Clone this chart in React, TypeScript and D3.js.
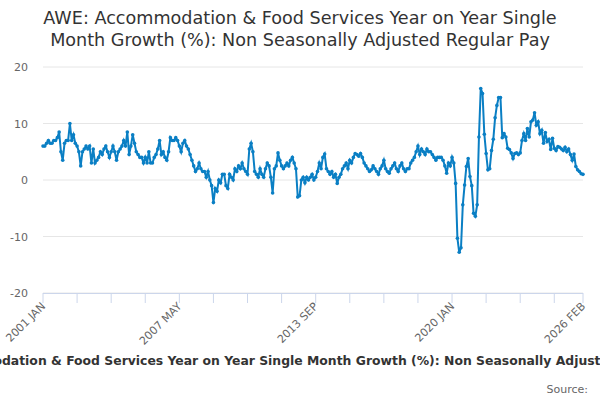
import * as d3 from 'd3';

const startYear = 2001;
const values: number[] = [
  6, 6, 6.5, 7, 6.5, 6.5, 7, 7, 7.5, 8.5, 5, 3.5,
  6.5, 7, 7, 10, 7, 8, 6.5, 6, 5, 2.5, 5, 5.5,
  6, 5.5, 6, 3, 5.5, 3, 3.5, 4, 5, 4.5, 5.5, 6,
  5, 4, 5, 6, 5, 3.5, 5, 5.5, 6, 7, 6, 8.5,
  4.5, 6, 8, 6.5, 5, 4.5, 4, 4, 3, 4, 3, 5,
  3, 3, 4, 4.5, 5.5, 7, 4.5, 5, 4, 3.5, 5, 7.5,
  7, 7, 7.5, 7, 6, 5, 6.5, 7, 6, 5.5, 4.5, 3.5,
  2.5, 1.5, 2, 3, 2, 1.5, 1.5, 0.5, 1.5, 0, -1, -4,
  -1.5, -2, 0, -0.5, 1, 1, -1, -1.5, 1, 0.5, 0, 2,
  1.5, 2.5, 2, 3, 2, 1.5, 1, 5.5, 6.5, 5, 1.5, 1,
  0.5, 2, 1, 0.5, 2, 3, 2.5, 0.5, -2.3, 2, 2.5, 4.8,
  3.5, 2.5, 2, 2.5, 3, 2.5, 3.5, 4, 3, 2, -3, -2.8,
  0, 0.5, -0.5, 0.5, 0, 0.5, 1, 0, 0.5, 1.5, 3, 2,
  4, 4.6, 2, 1.5, 1, 1.5, 0.5, 1, -0.6, 0.5, 1, 2,
  2.5, 3, 2, 3.5, 3, 4, 4.7, 4.5, 4.2, 4.7, 4, 3,
  2.5, 2, 1.5, 1.8, 2.5, 2, 1.5, 1, 2, 2.5, 3.5, 2,
  1.5, 1.2, 2, 2.5, 3, 2, 1.5, 2.5, 3, 2, 1.5, 2,
  2, 3, 3.5, 4, 5, 6, 4.5, 5.5, 5, 4.5, 5.5, 5,
  5, 4.5, 4, 3.5, 4, 4, 4, 3.5, 2.5, 1.2, 3, 2.5,
  4, 3, -0.6, -10.3, -12.8, -12, -4.4, -0.9, 2.4, 3.8, 0.6, -1,
  -5.9, -6.4, -4.4, 7.6, 16.2, 15.3, 8.1, 4.7, 1.8, 2, 5.2, 7.2,
  11, 13.2, 14.6, 14.6, 7.5, 8.2, 7.6, 5.6, 5.4, 4.8, 3.8, 4.7,
  4.8, 4.5, 4.8, 7, 8.2, 7, 9.1, 7.6, 10.3, 10.6, 11.9, 9.7,
  10.3, 8.2, 8.8, 6.5, 8.4, 6.8, 7.2, 5.4, 7.4, 5.6, 5.2, 5.9,
  5.8, 5.5, 5.2, 5.8, 5, 5.5, 4.5, 3.5, 4.6, 2.4, 1.8, 1.5,
  1.1, 1.0,
];
const yTicks = [-20, -10, 0, 10, 20];
const monthNames = ['JAN', 'FEB', 'MAR', 'APR', 'MAY', 'JUN', 'JUL', 'AUG', 'SEP', 'OCT', 'NOV', 'DEC'];
const titleLines = ['AWE: Accommodation & Food Services Year on Year Single', 'Month Growth (%): Non Seasonally Adjusted Regular Pay'];
const subtitle = 'AWE: Accommodation & Food Services Year on Year Single Month Growth (%): Non Seasonally Adjusted Regular Pay';

const font = '"DejaVu Sans", Verdana, sans-serif';

const label = (i: number) => `${startYear + Math.floor(i / 12)} ${monthNames[i % 12]}`;

const App = () => {
  const width = 600;
  const height = 400;
  const last = values.length - 1;
  const x = d3.scaleLinear().domain([0, last]).range([43, 583]);
  const y = d3.scaleLinear().domain([-20, 20]).range([293, 67]);
  const line = d3.line<number>().x((_, i) => x(i)).y(d => y(d));

  const ticks: number[] = [];
  for (let i = 0; i < last; i += 19) ticks.push(i);
  ticks.push(last);
  const labelled = [0, 76, 152, 228, last];

  return (
    <svg width={width} height={height} style={{ position: 'absolute', left: 0, top: 0, fontFamily: font }}>
      <rect width={width} height={height} fill="#fff" />
      {titleLines.map((t, i) => (
        <text key={i} x={300} y={24 + i * 22} textAnchor="middle" fontSize={17.6} fill="#333">{t}</text>
      ))}
      {yTicks.map(t => (
        <g key={t}>
          <line x1={43} x2={583} y1={y(t)} y2={y(t)} stroke="#e6e6e6" />
          <text x={28} y={y(t) + 4} textAnchor="end" fontSize={11} fill="#666">{t}</text>
        </g>
      ))}
      <line x1={43} x2={583} y1={293.5} y2={293.5} stroke="#ccd6eb" />
      {ticks.map(t => (
        <line key={t} x1={x(t)} x2={x(t)} y1={293} y2={303} stroke="#ccd6eb" />
      ))}
      {labelled.map(t => (
        <text key={t} transform={`translate(${x(t) + 3},${307}) rotate(-45)`} textAnchor="end" fontSize={11} fill="#666">{label(t)}</text>
      ))}
      <path d={line(values) || ''} fill="none" stroke="#0a7fc4" strokeWidth={2} />
      {values.map((v, i) => (
        <circle key={i} cx={x(i)} cy={y(v)} r={1.8} fill="#0a7fc4" />
      ))}
      <text x={300} y={365} textAnchor="middle" fontSize={12.4} fontWeight="bold" fill="#333">{subtitle}</text>
      <text x={588} y={393} textAnchor="end" fontSize={11} fill="#666">Source:</text>
    </svg>
  );
};

export default App;
